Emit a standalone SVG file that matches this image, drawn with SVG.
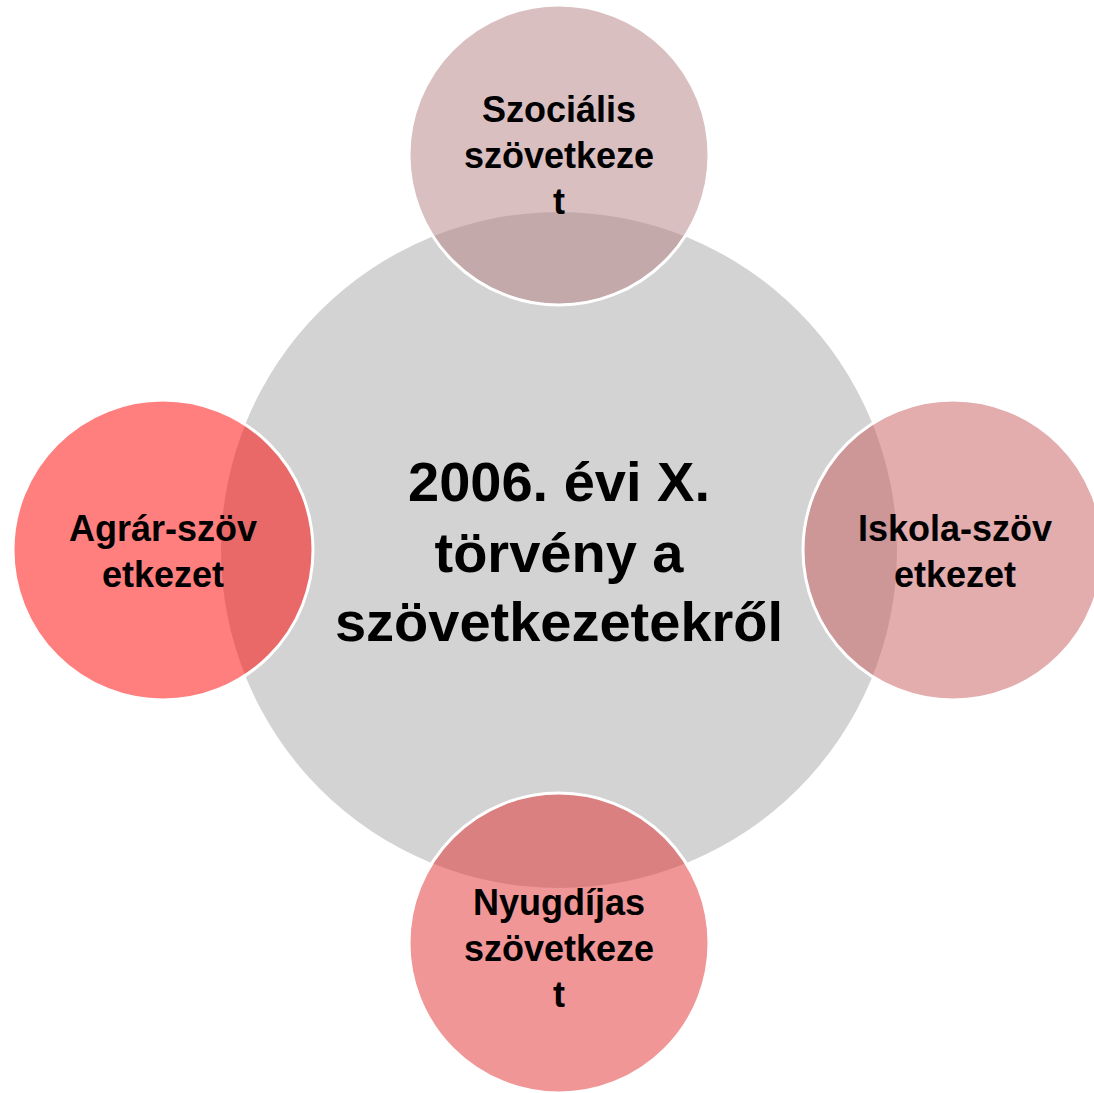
<svg xmlns="http://www.w3.org/2000/svg" width="1094" height="1093" viewBox="0 0 1094 1093">
<style>
.t{font-family:"Liberation Sans",Arial,sans-serif;font-weight:bold;fill:#000;text-anchor:middle}
.big{font-size:56px}
.sm{font-size:36px}
.sat{stroke:#fff;stroke-width:3;fill-opacity:0.5}
</style>
<rect width="1094" height="1093" fill="#fff"/>
<g id="connectors"></g>
<g id="center">
<circle cx="559" cy="550" r="338" fill="#d3d3d3"/>
</g>
<g id="top">
<circle class="sat" cx="559" cy="155" r="150" fill="#b37f81"/>
</g>
<g id="left">
<circle class="sat" cx="163" cy="550" r="150" fill="#ff0000"/>
</g>
<g id="right">
<circle class="sat" cx="953" cy="550" r="150" fill="#c7595b"/>
</g>
<g id="bottom">
<circle class="sat" cx="559" cy="943" r="150" fill="#e12d2d"/>
</g>
<g id="labels">
<text class="t big" x="559" y="501">2006. évi X.</text>
<text class="t big" x="559" y="572">törvény a</text>
<text class="t big" x="559" y="641">szövetkezetekről</text>
<text class="t sm" x="559" y="122">Szociális</text>
<text class="t sm" x="559" y="168">szövetkeze</text>
<text class="t sm" x="559" y="214">t</text>
<text class="t sm" x="163" y="541">Agrár-szöv</text>
<text class="t sm" x="163" y="587">etkezet</text>
<text class="t sm" x="955" y="541">Iskola-szöv</text>
<text class="t sm" x="955" y="587">etkezet</text>
<text class="t sm" x="559" y="915">Nyugdíjas</text>
<text class="t sm" x="559" y="961">szövetkeze</text>
<text class="t sm" x="559" y="1007">t</text>
</g>
</svg>
